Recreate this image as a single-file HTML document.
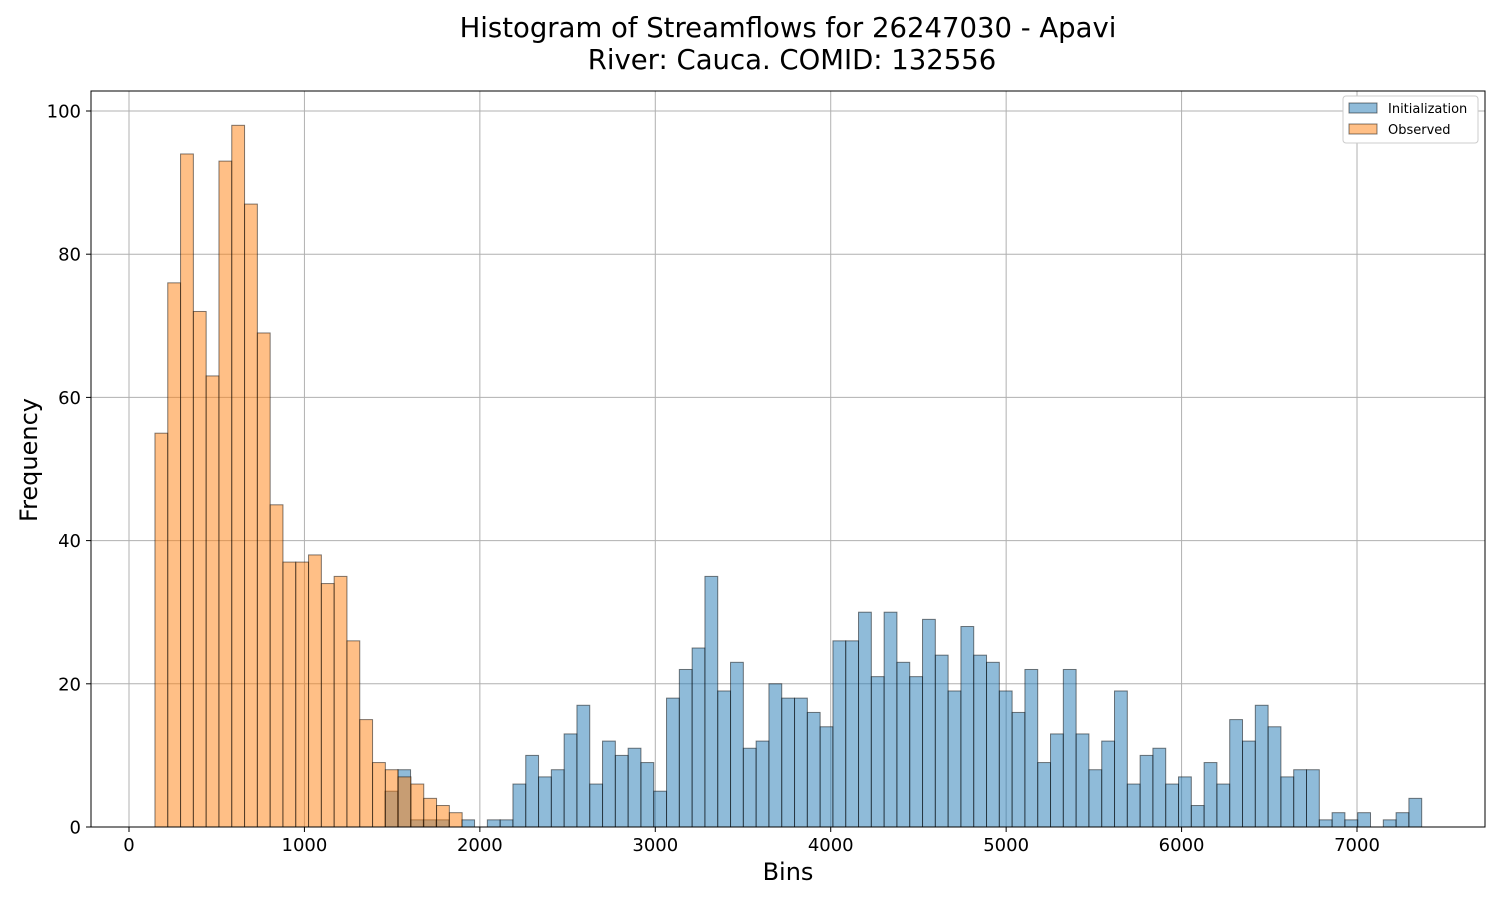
<!DOCTYPE html>
<html><head><meta charset="utf-8"><style>
body{margin:0;background:#fff;width:1500px;height:900px;overflow:hidden;font-family:"Liberation Sans","DejaVu Sans",sans-serif}
</style></head><body>
<svg id="chart" width="1500" height="900" xmlns="http://www.w3.org/2000/svg" font-family="DejaVu Sans, Liberation Sans, sans-serif">
<text x="788" y="37" font-size="27.5" text-anchor="middle">Histogram of Streamflows for 26247030 - Apavi</text>
<text x="792" y="69" font-size="27.5" text-anchor="middle">River: Cauca. COMID: 132556</text>
<g id="grid"></g><g id="bars"></g><g id="axes"></g>
<text x="788" y="880" font-size="24" text-anchor="middle">Bins</text>
<text x="37" y="460" font-size="24" text-anchor="middle" transform="rotate(-90 37 460)">Frequency</text>
<g>
<rect x="1343" y="96" width="135" height="47" fill="#fff" stroke="#ccc" rx="3"/>
<rect x="1349" y="103" width="28" height="10" fill="rgba(31,119,180,0.5)" stroke="rgba(0,0,0,0.5)"/>
<text x="1388" y="113" font-size="13">Initialization</text>
<rect x="1349" y="124" width="28" height="10" fill="rgba(255,127,14,0.5)" stroke="rgba(0,0,0,0.5)"/>
<text x="1388" y="134" font-size="13">Observed</text>
</g>
</svg>
<script>
const binWidth = 72.96;
const initStart = 1459;
const obsStart = 148;
const initCounts = [5,8,1,1,1,0,1,0,1,1,6,10,7,8,13,17,6,12,10,11,9,5,18,22,25,35,19,23,11,12,20,18,18,16,14,26,26,30,21,30,23,21,29,24,19,28,24,23,19,16,22,9,13,22,13,8,12,19,6,10,11,6,7,3,9,6,15,12,17,14,7,8,8,1,2,1,2,0,1,2,4];
const obsCounts = [55,76,94,72,63,93,98,87,69,45,37,37,38,34,35,26,15,9,8,7,6,4,3,2];
const xTicks = [0,1000,2000,3000,4000,5000,6000,7000];
const yTicks = [0,20,40,60,80,100];
const L=91,R=1485,T=91,B=827;
const X=v=>129+v*0.17543;
const Y=v=>827-v*7.16;
const NS="http://www.w3.org/2000/svg";
function mk(t,a,p){const e=document.createElementNS(NS,t);for(const k in a)e.setAttribute(k,a[k]);p.appendChild(e);return e;}
const grid=document.getElementById('grid'),bars=document.getElementById('bars'),axes=document.getElementById('axes');
xTicks.forEach(v=>{
  const g=mk('line',{x1:X(v),x2:X(v),y1:T,y2:B,stroke:'#b0b0b0','stroke-width':1},grid);
  
  
  mk('line',{x1:X(v),x2:X(v),y1:B,y2:B+5,stroke:'#000'},axes);
  const t=mk('text',{x:X(v),y:B+24,'font-size':18,'text-anchor':'middle'},axes);t.textContent=v;
  
  
});
yTicks.forEach(v=>{
  const g=mk('line',{x1:L,x2:R,y1:Y(v),y2:Y(v),stroke:'#b0b0b0','stroke-width':1},grid);
  
  
  mk('line',{x1:L-5,x2:L,y1:Y(v),y2:Y(v),stroke:'#000'},axes);
  const t=mk('text',{x:L-10,y:Y(v)+6.5,'font-size':18,'text-anchor':'end'},axes);t.textContent=v;
  
  
});
function drawSeries(arr,start,fill,name){
  arr.forEach((c,i)=>{
    if(c<=0)return;
    const x0=X(start+i*binWidth),x1=X(start+(i+1)*binWidth);
    const r=mk('rect',{x:x0,y:Y(c),width:x1-x0,height:Y(0)-Y(c),fill:fill,stroke:'rgba(0,0,0,0.5)','stroke-width':1},bars);
    
    
  });
}
drawSeries(initCounts,initStart,'rgba(31,119,180,0.5)','bar-initialization');
drawSeries(obsCounts,obsStart,'rgba(255,127,14,0.5)','bar-observed');
const fr=mk('rect',{x:L,y:T,width:R-L,height:B-T,fill:'none',stroke:'#000','stroke-width':1},axes);


</script>
</body></html>
